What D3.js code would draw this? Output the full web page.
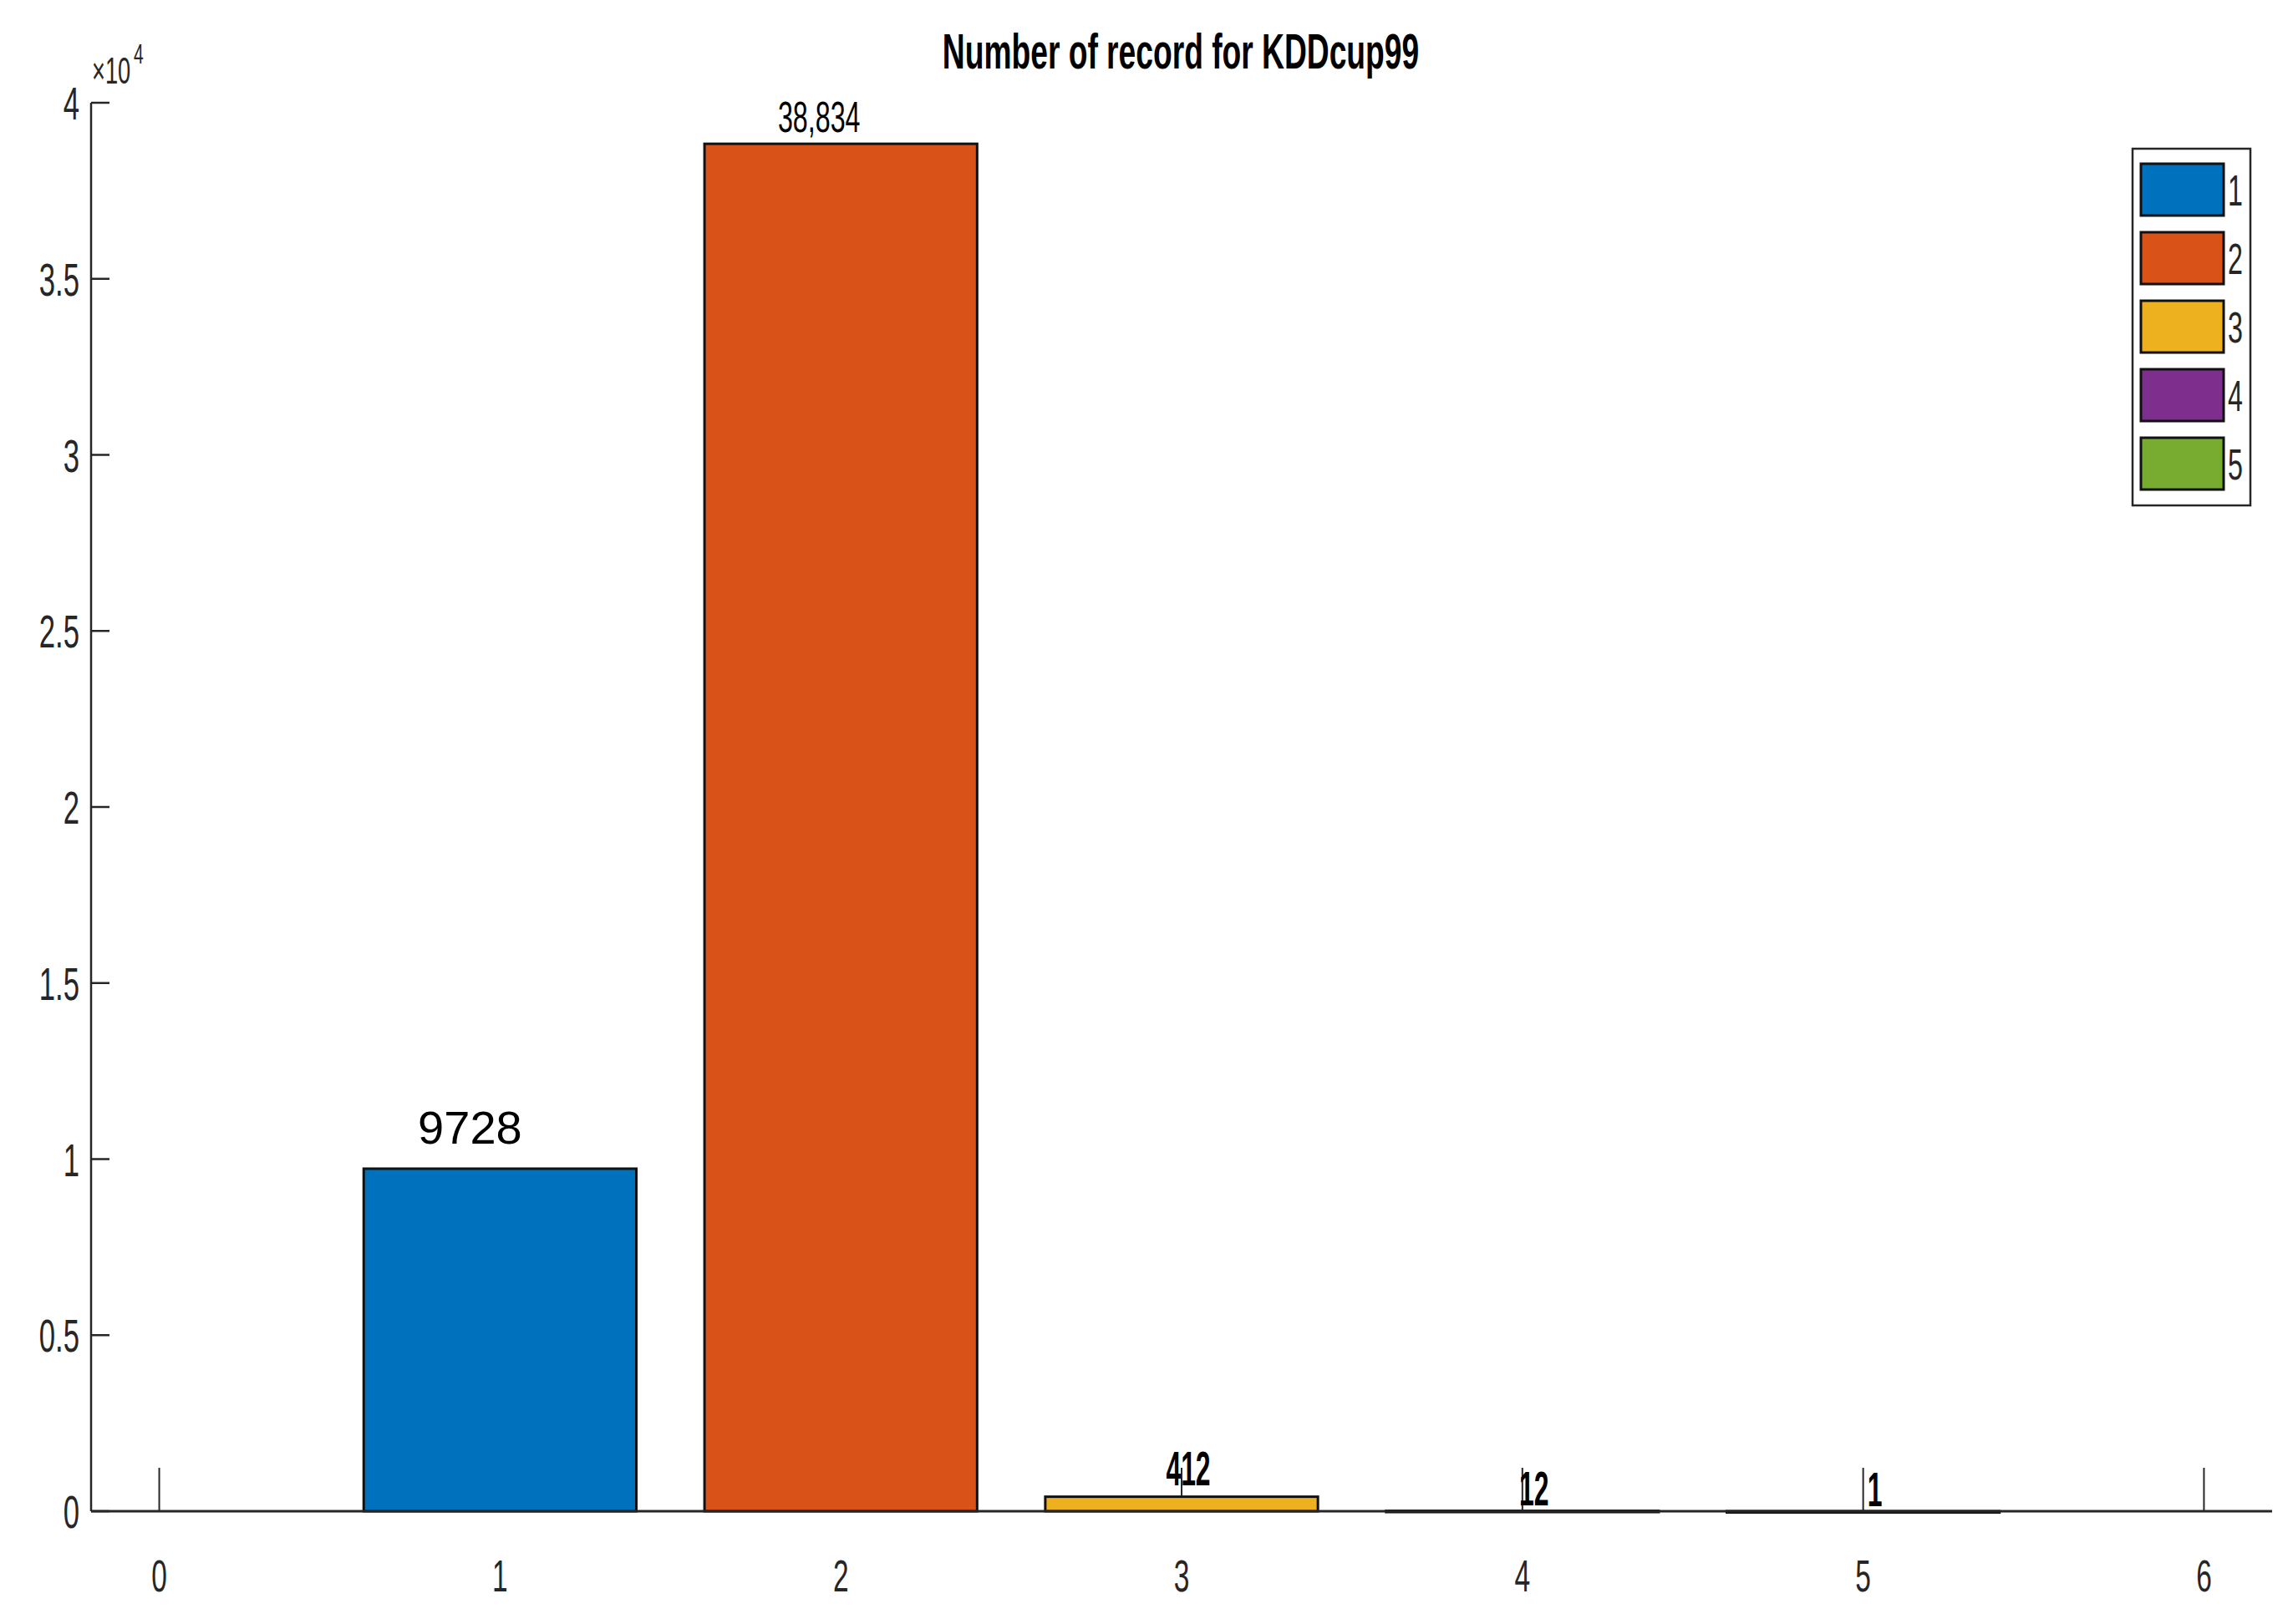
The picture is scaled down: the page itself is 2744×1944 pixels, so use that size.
<!DOCTYPE html>
<html>
<head>
<meta charset="utf-8">
<script src="https://cdn.jsdelivr.net/npm/d3@7"></script>
<style>
  body { margin: 0; background: #fff; }
  text { font-family: "Liberation Sans", sans-serif; fill: #262626; }
</style>
</head>
<body>
<svg id="chart" width="2744" height="1944"></svg>
<script>
const categories = [1, 2, 3, 4, 5];
const counts = [9728, 38834, 412, 12, 1];
const barLabels = ['9728', '38,834', '412', '12', '1'];
const colors = ['#0072BD', '#D95319', '#EDB120', '#7E2F8E', '#77AC30'];
const xTicks = [0, 1, 2, 3, 4, 5, 6];
const yTicks = [0, 5000, 10000, 15000, 20000, 25000, 30000, 35000, 40000];

const svg = d3.select('#chart');
const x = d3.scaleLinear().domain([-0.2, 6.2]).range([109, 2719]);
const y = d3.scaleLinear().domain([0, 40000]).range([1809, 123]);
const bw = x(0.8) - x(0);

// condensed text helper (the reference font is horizontally squeezed)
function ctext(px, py, str, size, anchor, sx) {
  return svg.append('text')
    .attr('transform', `translate(${px},${py}) scale(${sx || 0.62},1)`)
    .attr('text-anchor', anchor || 'start')
    .attr('font-size', size)
    .text(str);
}

// x ticks (inward), drawn under the bars
xTicks.forEach(v => {
  svg.append('line').attr('x1', x(v)).attr('x2', x(v)).attr('y1', y(0)).attr('y2', y(0) - 52)
    .attr('stroke', '#262626').attr('stroke-width', 2);
  ctext(x(v), 1905, v, 54, 'middle');
});

// bars
svg.selectAll('rect.bar').data(categories).enter().append('rect')
  .attr('class', 'bar')
  .attr('x', d => x(d) - bw / 2)
  .attr('y', (d, i) => y(counts[i]))
  .attr('width', bw)
  .attr('height', (d, i) => Math.max(y(0) - y(counts[i]), 1.5))
  .attr('fill', (d, i) => colors[i])
  .attr('stroke', '#111').attr('stroke-width', 3);

// axes lines
svg.append('line').attr('x1', x(-0.2)).attr('x2', x(-0.2)).attr('y1', y(40000)).attr('y2', y(0))
  .attr('stroke', '#262626').attr('stroke-width', 2.5);
svg.append('line').attr('x1', x(-0.2)).attr('x2', x(6.2)).attr('y1', y(0)).attr('y2', y(0))
  .attr('stroke', '#262626').attr('stroke-width', 3);

// y ticks (inward) and labels
yTicks.forEach(v => {
  svg.append('line').attr('x1', x(-0.2)).attr('x2', x(-0.2) + 22).attr('y1', y(v)).attr('y2', y(v))
    .attr('stroke', '#262626').attr('stroke-width', 2.5);
  ctext(x(-0.2) - 14, y(v) + 20, d3.format('~g')(v / 10000), 56, 'end');
});
ctext(110, 100, '\u00d710', 44, 'start');
ctext(160, 76, '4', 34, 'start');

// bar value labels
const lblStyle = [
  { dx: -36, dy: -30, size: 56, sx: 1, weight: 'normal' },
  { dx: -26, dy: -14, size: 52, sx: 0.62, weight: 'normal' },
  { dx: 8, dy: -14, size: 58, sx: 0.55, weight: 'bold' },
  { dx: 14, dy: -6, size: 58, sx: 0.55, weight: 'bold' },
  { dx: 14, dy: -6, size: 58, sx: 0.55, weight: 'bold' }
];
categories.forEach((c, i) => {
  const s = lblStyle[i];
  ctext(x(c) + s.dx, y(counts[i]) + s.dy, barLabels[i], s.size, 'middle', s.sx)
    .attr('font-weight', s.weight).style('fill', '#000');
});

// title
ctext(1413, 82, 'Number of record for KDDcup99', 60, 'middle', 0.62)
  .attr('font-weight', 'bold').style('fill', '#000');

// legend
const lg = svg.append('g').attr('transform', 'translate(2552,178)');
lg.append('rect').attr('width', 141).attr('height', 427).attr('fill', '#fff')
  .attr('stroke', '#262626').attr('stroke-width', 2.5);
categories.forEach((c, i) => {
  lg.append('rect').attr('x', 10).attr('y', 18 + i * 82).attr('width', 99).attr('height', 62)
    .attr('fill', colors[i]).attr('stroke', '#111').attr('stroke-width', 3);
  lg.append('text').attr('transform', `translate(114,${68 + i * 82}) scale(0.62,1)`)
    .attr('font-size', 52).text(c);
});
</script>
</body>
</html>
